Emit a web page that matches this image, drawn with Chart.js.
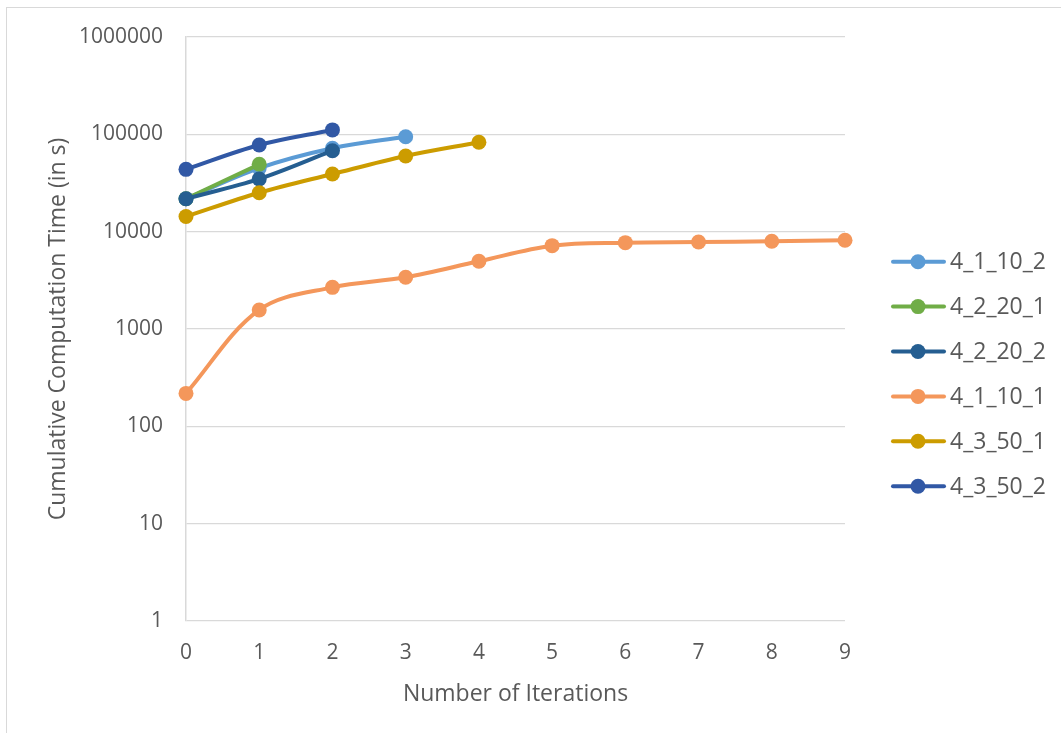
<html>
<head>
<meta charset="utf-8" />
<title>Cumulative Computation Time</title>
<script src="https://cdn.jsdelivr.net/npm/chart.js"></script>
<style>
  body { margin: 0; background: #fff; }
  #frame { position: absolute; left: 6px; top: 7px; width: 1100px; height: 800px; border: 1px solid #d9d9d9; }
  #wrap { position: absolute; left: 0; top: 0; width: 1061px; height: 733px; }
</style>
</head>
<body>
<div id="frame"></div>
<div id="wrap"><canvas id="myChart" width="1061" height="733"></canvas></div>
<script>
// iterations on the x axis
const iterations = ['0', '1', '2', '3', '4', '5', '6', '7', '8', '9'];
// y axis ticks (log scale)
const yTicks = [1, 10, 100, 1000, 10000, 100000, 1000000];

// cumulative computation time in s, per run
const run_4_1_10_2 = [21800, 45000, 72000, 94600];
const run_4_2_20_1 = [21800, 49200];
const run_4_2_20_2 = [21800, 34800, 67900];
const run_4_1_10_1 = [218, 1570, 2680, 3400, 4960, 7180, 7710, 7830, 7960, 8150];
const run_4_3_50_1 = [14300, 25100, 39100, 59900, 82800];
const run_4_3_50_2 = [43700, 77700, 111000];

const names = ['4_1_10_2', '4_2_20_1', '4_2_20_2', '4_1_10_1', '4_3_50_1', '4_3_50_2'];
const series = [run_4_1_10_2, run_4_2_20_1, run_4_2_20_2, run_4_1_10_1, run_4_3_50_1, run_4_3_50_2];
const colors = ['#5b9bd5', '#70ad47', '#255e91', '#f4975b', '#cc9c00', '#3158a5'];

const textColor = '#595959';
const fontFam = "'Open Sans', 'Liberation Sans', sans-serif";

// legend on the right, line + dot like the office charts
const sideLegend = {
  id: 'sideLegend',
  afterDraw(chart) {
    const ctx = chart.ctx;
    ctx.save();
    chart.data.datasets.forEach((ds, i) => {
      const y = 261.7 + i * 44.9;
      ctx.strokeStyle = ds.borderColor;
      ctx.lineWidth = 4;
      ctx.lineCap = 'round';
      ctx.beginPath();
      ctx.moveTo(893, y);
      ctx.lineTo(944, y);
      ctx.stroke();
      ctx.fillStyle = ds.borderColor;
      ctx.beginPath();
      ctx.arc(918, y, 7.5, 0, Math.PI * 2);
      ctx.fill();
      ctx.fillStyle = textColor;
      ctx.font = "23px " + fontFam;
      ctx.textAlign = 'left';
      ctx.textBaseline = 'middle';
      ctx.fillText(ds.label, 950, y + 1);
    });
    ctx.restore();
  }
};

const datasets = names.map((n, i) => ({
  label: n,
  data: series[i],
  borderColor: colors[i],
  backgroundColor: colors[i],
  pointBackgroundColor: colors[i],
  pointBorderColor: colors[i],
  pointRadius: 7.5,
  pointBorderWidth: 0,
  borderWidth: 4,
  tension: 0.35,
  clip: false,
  order: names.length - i
}));

const ctx = document.getElementById('myChart').getContext('2d');
const myChart = new Chart(ctx, {
  type: 'line',
  data: { labels: iterations, datasets: datasets },
  plugins: [sideLegend],
  options: {
    responsive: false,
    animation: false,
    layout: { padding: { left: 0, right: 216, top: 37, bottom: 0 } },
    plugins: {
      legend: { display: false },
      tooltip: { enabled: false }
    },
    scales: {
      x: {
        type: 'category',
        offset: false,
        grid: { display: false, drawTicks: false },
        border: { display: false },
        ticks: { color: textColor, font: { family: fontFam, size: 21 }, padding: 19, maxRotation: 0 },
        title: {
          display: true, text: 'Number of Iterations', color: textColor,
          font: { family: fontFam, size: 23 }, padding: { top: 0, bottom: 25 }
        },
        afterFit(scale) { scale.height = 733 - 621; }
      },
      y: {
        type: 'logarithmic',
        min: 1,
        max: 1000000,
        grid: { color: '#d9d9d9', lineWidth: 1.3, drawTicks: false },
        border: { display: true, color: '#d9d9d9', width: 1.5 },
        ticks: {
          color: textColor, font: { family: fontFam, size: 21 }, padding: 23,
          callback: (v) => String(v)
        },
        afterBuildTicks(scale) { scale.ticks = yTicks.map(v => ({ value: v })); },
        title: {
          display: true, text: 'Cumulative Computation Time (in s)', color: textColor,
          font: { family: fontFam, size: 23 }, padding: { top: 45, bottom: 0 }
        },
        afterFit(scale) { scale.width = 186; }
      }
    }
  }
});
</script>
</body>
</html>
